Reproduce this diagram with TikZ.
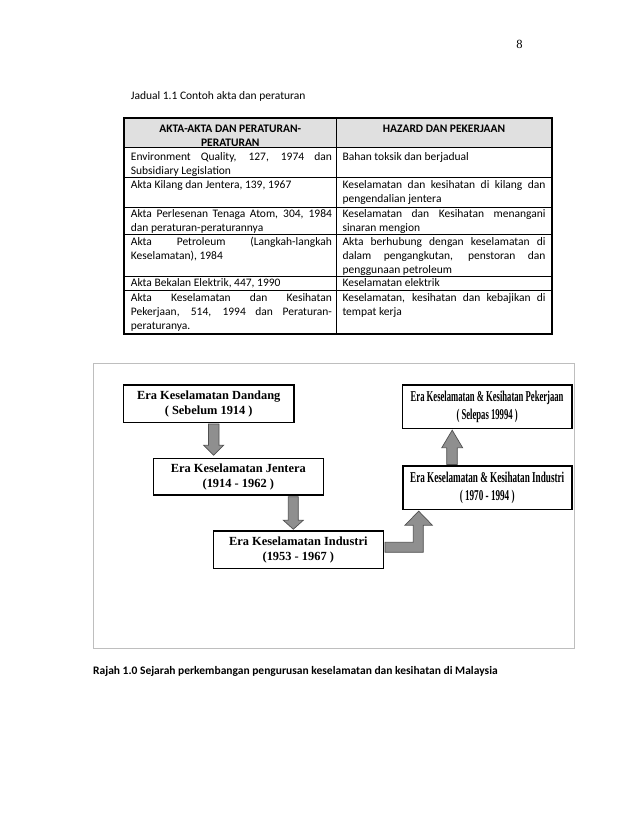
\documentclass[tikz,border=0pt]{standalone}
\usepackage{fontspec}
\setmainfont{Carlito}
\newfontfamily\tnr{Liberation Serif}
\newfontfamily\tnrca[FakeStretch=0.575]{Liberation Serif}
\newfontfamily\tnrcb[FakeStretch=0.61]{Liberation Serif}
\usetikzlibrary{calc}
\newcommand\cf{\fontsize{11.5}{13.8}\selectfont}
\newcommand\jl[1]{\hbox to 201pt{#1}}
\newcommand\jr[1]{\hbox to 203pt{#1}}
\definecolor{hdrgray}{RGB}{224,224,224}
\definecolor{arrowgray}{RGB}{143,143,143}
\definecolor{arrowedge}{RGB}{80,80,80}
\definecolor{framegray}{RGB}{190,190,190}
\begin{document}
\begin{tikzpicture}[x=1pt,y=-1pt,
  cell/.style={anchor=north west, inner sep=0pt, align=left, font=\cf},
  hcell/.style={anchor=north, inner sep=0pt, align=center, font=\cf\bfseries},
  rule/.style={line width=0.8pt},
  ebox/.style={draw, line width=1.6pt, inner sep=0pt, align=center, fill=white,
    font=\tnr\bfseries\fontsize{12.4}{14.7}\selectfont},
  cbox/.style={draw, line width=1.6pt, inner sep=0pt, align=center, fill=white},
  barrow/.style={fill=arrowgray, draw=arrowedge, line width=0.7pt, line join=miter}]
\useasboundingbox (0,0) rectangle (638,826);

% page number and table caption
\node[font=\tnr\fontsize{12.5}{14}\selectfont, inner sep=0pt] (pg) at (519.5,44) {8};
\node[anchor=base west, inner sep=0pt, font=\cf] (jad) at (130.7,100) {Jadual 1.1 Contoh akta dan peraturan};

% table grid
\fill[hdrgray] (123.5,118.5) rectangle (551.5,147.5);
\draw[rule] (123.5,147.5) -- (551.5,147.5);
\draw[rule] (123.5,177) -- (551.5,177);
\draw[rule] (123.5,207) -- (551.5,207);
\draw[rule] (123.5,234) -- (551.5,234);
\draw[rule] (123.5,276) -- (551.5,276);
\draw[rule] (123.5,290) -- (551.5,290);
\draw[rule] (336.5,118.5) -- (336.5,334);
\draw[line width=2pt] (123.5,118.3) rectangle (551.7,334);

% header
\node[hcell] (h1) at (230.3,122.8) {\strut AKTA-AKTA DAN PERATURAN-\\PERATURAN};
\node[hcell] (h2) at (444,122.8) {\strut HAZARD DAN PEKERJAAN};

% left column
\node[cell] (l1) at (130.7,150.8) {\strut\jl{Environment Quality, 127, 1974 dan}\\Subsidiary Legislation};
\node[cell] (l2) at (130.7,178.8) {\strut Akta Kilang dan Jentera, 139, 1967};
\node[cell] (l3) at (130.7,207.8) {\strut\jl{Akta Perlesenan Tenaga Atom, 304, 1984}\\dan peraturan-peraturannya};
\node[cell] (l4) at (130.7,235.8) {\strut\jl{Akta Petroleum (Langkah-langkah}\\Keselamatan), 1984};
\node[cell] (l5) at (130.7,276.8) {\strut Akta Bekalan Elektrik, 447, 1990};
\node[cell] (l6) at (130.7,291.8) {\strut\jl{Akta Keselamatan dan Kesihatan}\\\jl{Pekerjaan, 514, 1994 dan Peraturan-}\\peraturanya.};

% right column
\node[cell] (r1) at (342.3,150.8) {\strut Bahan toksik dan berjadual};
\node[cell] (r2) at (342.3,178.8) {\strut\jr{Keselamatan dan kesihatan di kilang dan}\\pengendalian jentera};
\node[cell] (r3) at (342.3,207.8) {\strut\jr{Keselamatan dan Kesihatan menangani}\\sinaran mengion};
\node[cell] (r4) at (342.3,235.8) {\strut\jr{Akta berhubung dengan keselamatan di}\\\jr{dalam pengangkutan, penstoran dan}\\penggunaan petroleum};
\node[cell] (r5) at (342.3,276.8) {\strut Keselamatan elektrik};
\node[cell] (r6) at (342.3,291.8) {\strut\jr{Keselamatan, kesihatan dan kebajikan di}\\tempat kerja};

% diagram frame
\draw[framegray, line width=0.8pt] (93,363) rectangle (574.3,648);

% era boxes
\node[ebox, minimum width=170.7pt, minimum height=37.3pt] (b1) at (208.7,403.7) {Era Keselamatan Dandang\\( Sebelum 1914 )};
\node[ebox, minimum width=170pt, minimum height=36.7pt] (b2) at (238.3,476.7) {Era Keselamatan Jentera\\(1914 - 1962 )};
\node[ebox, minimum width=170pt, minimum height=37.3pt] (b3) at (298.3,549.7) {Era Keselamatan Industri\\(1953 - 1967 )};
\node[cbox, font=\tnrca\bfseries\fontsize{15}{17.4}\selectfont, minimum width=169.2pt, minimum height=43.3pt] (b4) at (487.1,406.7) {Era Keselamatan \& Kesihatan Pekerjaan\\( Selepas 19994 )};
\node[cbox, font=\tnrcb\bfseries\fontsize{15}{17.4}\selectfont, minimum width=169pt, minimum height=43.3pt] (b5) at (487.2,487.7) {Era Keselamatan \& Kesihatan Industri\\( 1970 - 1994 )};

% block arrows
\draw[barrow] let \p1=(b1.south), \p2=(b2.north) in
  (208.4pt,{\y1-0.8pt}) -- (208.4pt,{\y2+12.3pt}) -- (203.7pt,{\y2+12.3pt})
  -- (213.7pt,{\y2+2.3pt}) -- (223.7pt,{\y2+12.3pt}) -- (219pt,{\y2+12.3pt})
  -- (219pt,{\y1-0.8pt}) -- cycle;
\draw[barrow] let \p1=(b2.south), \p2=(b3.north) in
  (288.3pt,{\y1-0.8pt}) -- (288.3pt,{\y2+10pt}) -- (283.3pt,{\y2+10pt})
  -- (293.3pt,{\y2+1pt}) -- (303.3pt,{\y2+10pt}) -- (298.3pt,{\y2+10pt})
  -- (298.3pt,{\y1-0.8pt}) -- cycle;
\draw[barrow] let \p1=(b3.east), \p2=(b5.south) in
  ({\x1+0.8pt},-542.3pt) -- (413.3pt,-542.3pt) -- (413.3pt,{\y2-15pt})
  -- (405pt,{\y2-15pt}) -- (418.7pt,{\y2-1pt}) -- (432.3pt,{\y2-15pt})
  -- (423.3pt,{\y2-15pt}) -- (423.3pt,-552.3pt) -- ({\x1+0.8pt},-552.3pt) -- cycle;
\draw[barrow] let \p1=(b5.north), \p2=(b4.south) in
  (446.7pt,{\y1+0.8pt}) -- (446.7pt,{\y2-18.7pt}) -- (441.7pt,{\y2-18.7pt})
  -- (452.2pt,{\y2-1pt}) -- (462.7pt,{\y2-18.7pt}) -- (457.3pt,{\y2-18.7pt})
  -- (457.3pt,{\y1+0.8pt}) -- cycle;

% figure caption
\node[anchor=base west, inner sep=0pt, font=\cf\bfseries] (cap) at (93,674.5) {Rajah 1.0 Sejarah perkembangan pengurusan keselamatan dan kesihatan di Malaysia};
\end{tikzpicture}
\end{document}
